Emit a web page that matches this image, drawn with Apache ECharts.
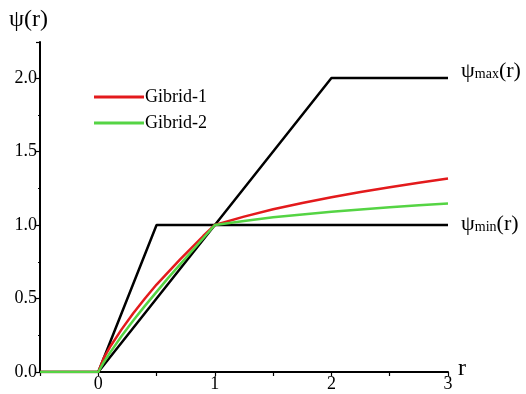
<!DOCTYPE html>
<html>
<head>
<meta charset="utf-8">
<script src="https://cdn.jsdelivr.net/npm/echarts@6/dist/echarts.min.js"></script>
<style>html,body{margin:0;padding:0;background:#fff}#c{width:526px;height:394px}</style>
</head>
<body>
<div id="c"></div>
<script>
const xTicks = [0, 1, 2, 3];
const yTicks = [0.0, 0.5, 1.0, 1.5, 2.0];
const psiMinX = [-0.5, 0, 0.5, 3];
const psiMinY = [0, 0, 1, 1];
const psiMaxX = [0, 2, 3];
const psiMaxY = [0, 2, 2];
const gibridX = [-0.5, 0, 0.05, 0.1, 0.2, 0.3, 0.4, 0.5, 0.6, 0.7, 0.8, 0.9, 1.0, 1.25, 1.5, 1.75, 2.0, 2.25, 2.5, 2.75, 3.0];
const gibrid1Y = [0, 0, 0.10, 0.17, 0.29, 0.40, 0.50, 0.595, 0.68, 0.765, 0.845, 0.925, 1.0, 1.057, 1.107, 1.15, 1.189, 1.225, 1.257, 1.288, 1.316];
const gibrid2Y = [0, 0, 0.07, 0.13, 0.245, 0.35, 0.45, 0.545, 0.64, 0.73, 0.82, 0.91, 1.0, 1.028, 1.052, 1.072, 1.09, 1.106, 1.121, 1.135, 1.147];

const FONT = '"Liberation Serif", "Times New Roman", serif';
const zip = (xs, ys) => xs.map((x, i) => [x, ys[i]]);

const chart = echarts.init(document.getElementById('c'), null, {renderer: 'canvas'});
chart.setOption({
  animation: false,
  backgroundColor: '#fff',
  textStyle: {fontFamily: FONT},
  grid: {left: 40, right: 78, top: 42, bottom: 22, containLabel: false},
  xAxis: {
    type: 'value', min: -0.5, max: 3, interval: 0.5,
    axisLine: {show: true, onZero: false, lineStyle: {color: '#000', width: 2}},
    axisTick: {show: true, length: 4, lineStyle: {color: '#000', width: 1.2}},
    splitLine: {show: false},
    axisLabel: {
      color: '#000', fontFamily: FONT, fontSize: 18, margin: 3,
      formatter: v => (xTicks.indexOf(v) >= 0 ? String(v) : '')
    }
  },
  yAxis: {
    type: 'value', min: 0, max: 2.245, interval: 0.5,
    axisLine: {show: true, onZero: false, lineStyle: {color: '#000', width: 2}},
    axisTick: {show: true, length: 4, lineStyle: {color: '#000', width: 1.2}},
    minorTick: {show: true, splitNumber: 2, length: 2, lineStyle: {color: '#000', width: 1}},
    splitLine: {show: false},
    axisLabel: {
      color: '#000', fontFamily: FONT, fontSize: 18, margin: 3, showMaxLabel: false,
      formatter: v => (yTicks.some(t => Math.abs(t - v) < 1e-9) ? v.toFixed(1) : '')
    }
  },
  legend: {
    left: 89, top: 83, orient: 'vertical', itemGap: 8,
    itemWidth: 50, itemHeight: 3, icon: 'rect',
    data: ['Gibrid-1', 'Gibrid-2'],
    textStyle: {fontFamily: FONT, fontSize: 18, color: '#000', padding: [0, 0, 0, -4]}
  },
  series: [
    {type: 'line', name: 'psiMin', data: zip(psiMinX, psiMinY), symbol: 'none',
      lineStyle: {color: '#000', width: 2.5}, itemStyle: {color: '#000'}},
    {type: 'line', name: 'psiMax', data: zip(psiMaxX, psiMaxY), symbol: 'none',
      lineStyle: {color: '#000', width: 2.5}, itemStyle: {color: '#000'}},
    {type: 'line', name: 'Gibrid-1', data: zip(gibridX, gibrid1Y), symbol: 'none', smooth: false,
      lineStyle: {color: '#e31a1c', width: 2.5, join: 'round'}, itemStyle: {color: '#e31a1c'}},
    {type: 'line', name: 'Gibrid-2', data: zip(gibridX, gibrid2Y), symbol: 'none', smooth: false,
      lineStyle: {color: '#55d444', width: 2.5, join: 'round'}, itemStyle: {color: '#55d444'}}
  ],
  graphic: [
    {type: 'text', left: 9, top: 8, style: {text: 'ψ(r)', fontFamily: FONT, fontSize: 24, fill: '#000'}},
    {type: 'text', left: 458, top: 357, style: {text: 'r', fontFamily: FONT, fontSize: 24, fill: '#000'}},
    {type: 'text', left: 461, top: 60, style: {
      text: '{a|ψ}{b|max}{a|(r)}',
      rich: {a: {fontFamily: FONT, fontSize: 22, fill: '#000', verticalAlign: 'bottom'},
             b: {fontFamily: FONT, fontSize: 14, fill: '#000', verticalAlign: 'bottom', padding: [0, 0, 1, 0]}}
    }},
    {type: 'text', left: 461, top: 213, style: {
      text: '{a|ψ}{b|min}{a|(r)}',
      rich: {a: {fontFamily: FONT, fontSize: 22, fill: '#000', verticalAlign: 'bottom'},
             b: {fontFamily: FONT, fontSize: 14, fill: '#000', verticalAlign: 'bottom', padding: [0, 0, 1, 0]}}
    }}
  ]
});
</script>
</body>
</html>
